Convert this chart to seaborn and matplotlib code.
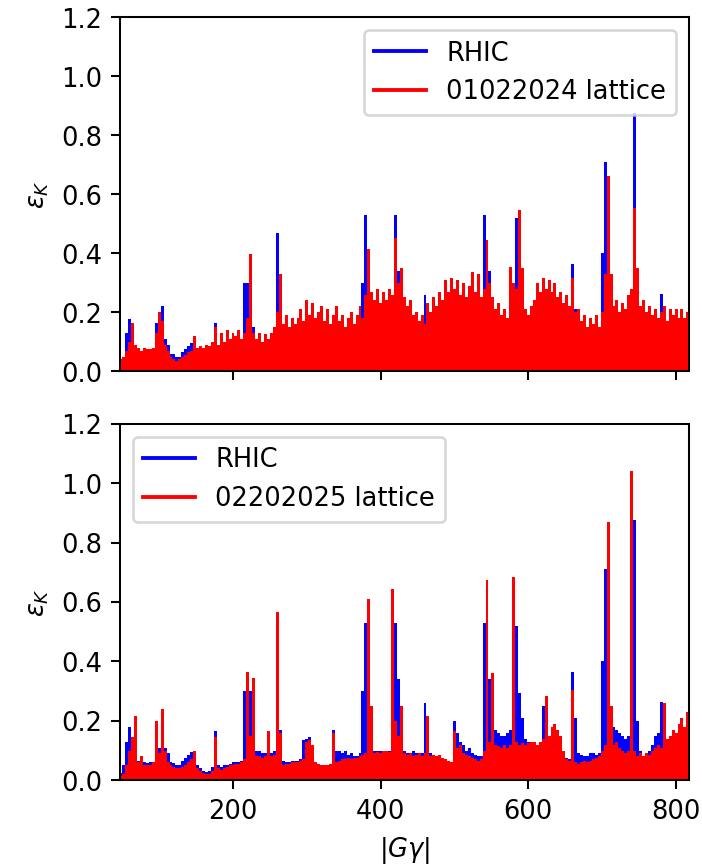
import matplotlib
matplotlib.use("Agg")
import matplotlib.pyplot as plt
from matplotlib.lines import Line2D
import seaborn as sns
import pandas as pd

# |G gamma| positions (resonance grid)
gamma_g = list(range(48, 817, 4))

# RHIC lattice resonance strengths (same in both panels)
rhic = [
    0.026, 0.05, 0.13, 0.178, 0.11, 0.06, 0.065, 0.06, 0.06, 0.058,        # 48-84
    0.06, 0.06, 0.165, 0.11, 0.22, 0.11, 0.09, 0.06, 0.058, 0.05,          # 88-124
    0.05, 0.065, 0.075, 0.085, 0.095, 0.10, 0.05, 0.04, 0.03, 0.028,       # 128-164
    0.03, 0.045, 0.165, 0.05, 0.045, 0.05, 0.05, 0.055, 0.06, 0.06,        # 168-204
    0.06, 0.065, 0.30, 0.30, 0.30, 0.15, 0.10, 0.10, 0.09, 0.09,           # 208-244
    0.09, 0.09, 0.10, 0.47, 0.17, 0.065, 0.06, 0.06, 0.065, 0.065,         # 248-284
    0.065, 0.07, 0.135, 0.14, 0.147, 0.07, 0.06, 0.05, 0.046, 0.05,        # 288-324
    0.046, 0.05, 0.17, 0.10, 0.10, 0.09, 0.10, 0.085, 0.09, 0.08,          # 328-364
    0.08, 0.09, 0.30, 0.53, 0.18, 0.11, 0.10, 0.10, 0.10, 0.10,            # 368-404
    0.10, 0.10, 0.10, 0.53, 0.34, 0.21, 0.10, 0.09, 0.09, 0.10,            # 408-444
    0.09, 0.08, 0.09, 0.26, 0.10, 0.09, 0.085, 0.08, 0.075, 0.07,          # 448-484
    0.07, 0.065, 0.06, 0.20, 0.16, 0.13, 0.12, 0.10, 0.11, 0.09,           # 488-524
    0.085, 0.08, 0.08, 0.53, 0.22, 0.34, 0.21, 0.17, 0.16, 0.15,           # 528-564
    0.15, 0.16, 0.17, 0.17, 0.52, 0.295, 0.21, 0.14, 0.13, 0.12,           # 568-604
    0.12, 0.11, 0.12, 0.25, 0.14, 0.12, 0.10, 0.09, 0.08, 0.09,            # 608-644
    0.08, 0.075, 0.07, 0.364, 0.21, 0.09, 0.085, 0.08, 0.08, 0.09,         # 648-684
    0.09, 0.085, 0.09, 0.40, 0.71, 0.23, 0.18, 0.18, 0.17, 0.16,           # 688-724
    0.15, 0.14, 0.15, 0.11, 0.875, 0.20, 0.10, 0.08, 0.09, 0.10,           # 728-764
    0.12, 0.15, 0.16, 0.263, 0.15, 0.12, 0.13, 0.12, 0.11, 0.12,           # 768-804
    0.10, 0.13, 0.12,                                                      # 808-816
]

# 01022024 lattice
lat_2024 = [
    0.04, 0.05, 0.07, 0.10, 0.165, 0.09, 0.08, 0.07, 0.08, 0.075,
    0.075, 0.08, 0.13, 0.20, 0.17, 0.09, 0.07, 0.05, 0.04, 0.035,
    0.04, 0.05, 0.055, 0.065, 0.07, 0.118, 0.08, 0.085, 0.08, 0.09,
    0.085, 0.10, 0.15, 0.09, 0.13, 0.10, 0.14, 0.11, 0.13, 0.12,
    0.14, 0.11, 0.13, 0.18, 0.397, 0.13, 0.11, 0.13, 0.10, 0.125,
    0.11, 0.13, 0.15, 0.20, 0.33, 0.16, 0.19, 0.15, 0.18, 0.16,
    0.18, 0.21, 0.17, 0.24, 0.19, 0.23, 0.18, 0.20, 0.22, 0.17,
    0.21, 0.16, 0.19, 0.22, 0.17, 0.19, 0.15, 0.18, 0.20, 0.16,
    0.19, 0.22, 0.18, 0.26, 0.415, 0.27, 0.24, 0.28, 0.23, 0.27,
    0.24, 0.28, 0.26, 0.45, 0.30, 0.35, 0.25, 0.22, 0.24, 0.19,
    0.20, 0.17, 0.19, 0.16, 0.23, 0.20, 0.25, 0.22, 0.27, 0.24,
    0.31, 0.27, 0.315, 0.28, 0.31, 0.26, 0.30, 0.25, 0.29, 0.338,
    0.27, 0.33, 0.25, 0.28, 0.445, 0.30, 0.25, 0.21, 0.23, 0.19,
    0.21, 0.18, 0.355, 0.30, 0.28, 0.545, 0.35, 0.21, 0.19, 0.22,
    0.24, 0.30, 0.27, 0.315, 0.28, 0.31, 0.27, 0.30, 0.25, 0.27,
    0.23, 0.26, 0.22, 0.315, 0.20, 0.21, 0.17, 0.19, 0.15, 0.18,
    0.16, 0.19, 0.15, 0.20, 0.33, 0.66, 0.33, 0.22, 0.24, 0.20,
    0.23, 0.21, 0.26, 0.28, 0.554, 0.35, 0.22, 0.24, 0.20, 0.22,
    0.19, 0.21, 0.18, 0.20, 0.22, 0.17, 0.21, 0.19, 0.21, 0.18,
    0.21, 0.18, 0.20,
]

# 02202025 lattice
lat_2025 = [
    0.015, 0.02, 0.05, 0.10, 0.147, 0.215, 0.06, 0.08, 0.05, 0.05,
    0.05, 0.06, 0.20, 0.09, 0.24, 0.10, 0.06, 0.05, 0.045, 0.04,
    0.04, 0.045, 0.05, 0.06, 0.07, 0.10, 0.04, 0.03, 0.025, 0.02,
    0.02, 0.03, 0.147, 0.04, 0.035, 0.04, 0.045, 0.05, 0.05, 0.055,
    0.055, 0.06, 0.07, 0.364, 0.15, 0.345, 0.08, 0.08, 0.075, 0.08,
    0.165, 0.08, 0.085, 0.567, 0.16, 0.05, 0.055, 0.055, 0.06, 0.06,
    0.06, 0.065, 0.07, 0.13, 0.135, 0.12, 0.06, 0.055, 0.05, 0.05,
    0.05, 0.055, 0.158, 0.06, 0.065, 0.07, 0.07, 0.075, 0.07, 0.075,
    0.075, 0.08, 0.085, 0.09, 0.61, 0.25, 0.09, 0.095, 0.09, 0.10,
    0.10, 0.095, 0.645, 0.20, 0.15, 0.25, 0.09, 0.085, 0.09, 0.08,
    0.085, 0.09, 0.08, 0.09, 0.215, 0.08, 0.085, 0.08, 0.085, 0.075,
    0.07, 0.065, 0.06, 0.165, 0.11, 0.12, 0.09, 0.085, 0.08, 0.075,
    0.07, 0.065, 0.07, 0.10, 0.675, 0.13, 0.36, 0.12, 0.115, 0.11,
    0.12, 0.11, 0.12, 0.685, 0.13, 0.12, 0.125, 0.12, 0.125, 0.13,
    0.13, 0.12, 0.13, 0.14, 0.283, 0.15, 0.18, 0.19, 0.17, 0.15,
    0.10, 0.07, 0.065, 0.305, 0.06, 0.055, 0.06, 0.065, 0.06, 0.065,
    0.07, 0.075, 0.08, 0.10, 0.12, 0.87, 0.25, 0.12, 0.13, 0.11,
    0.10, 0.09, 0.10, 1.04, 0.10, 0.08, 0.09, 0.08, 0.09, 0.085,
    0.10, 0.11, 0.12, 0.11, 0.26, 0.14, 0.15, 0.17, 0.16, 0.19,
    0.21, 0.18, 0.23,
]

series_labels = ["RHIC", "01022024 lattice", "02202025 lattice"]
y_ticks = [0.0, 0.2, 0.4, 0.6, 0.8, 1.0, 1.2]
x_ticks = [200, 400, 600, 800]

df = pd.DataFrame({"K": gamma_g, "rhic": rhic, "a": lat_2024, "b": lat_2025})

DPI = 185
fig = plt.figure(figsize=(702.4 / DPI, 866.4 / DPI), dpi=DPI)
ax1 = fig.add_axes([0.1709, 0.5710, 0.8105, 0.4088])
ax2 = fig.add_axes([0.1709, 0.0990, 0.8105, 0.4114], sharex=ax1)

BLUE = "#0000ff"
RED = "#ff0000"

def draw(ax, col, color):
    sns.histplot(data=df, x="K", weights=col, binwidth=4, binrange=(46, 818),
                 color=color, alpha=1.0, linewidth=0, element="bars",
                 stat="count", ax=ax)

for ax, other, lab, loc in [(ax1, "a", series_labels[1], "upper right"),
                            (ax2, "b", series_labels[2], "upper left")]:
    draw(ax, "rhic", BLUE)
    draw(ax, other, RED)
    ax.set_ylim(0, 1.2)
    ax.set_yticks(y_ticks)
    ax.set_ylabel(r"$\varepsilon_K$")
    handles = [Line2D([0], [0], color=BLUE, lw=1.5),
               Line2D([0], [0], color=RED, lw=1.5)]
    ax.legend(handles, [series_labels[0], lab], loc=loc)

ax1.set_xlim(47, 818)
ax1.set_xticks(x_ticks)
ax1.tick_params(labelbottom=False)
ax1.set_xlabel("")
ax2.set_xlabel(r"$|G\gamma|$")

fig.savefig("out.png", dpi=DPI)
